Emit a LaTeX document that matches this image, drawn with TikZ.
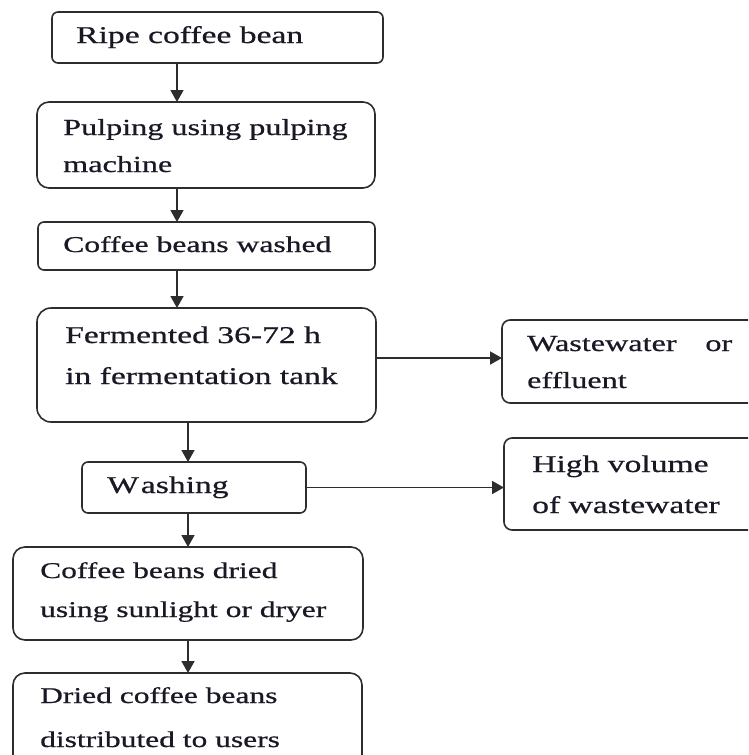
\documentclass[tikz,border=0pt]{standalone}
\usepackage{fontspec}
\setmainfont[FakeStretch=1.4,FakeBold=0.7]{Liberation Serif}
\usetikzlibrary{arrows.meta}
\definecolor{linec}{RGB}{45,45,45}
\definecolor{txtc}{RGB}{25,25,38}
\tikzset{
  box/.style={draw=linec, line width=1.6pt, anchor=north west, inner sep=0pt, outer sep=0pt},
  txt/.style={anchor=base west, inner sep=0pt, text=txtc},
  arr/.style={draw=linec, line width=1.7pt, -{Triangle[length=12pt,width=13pt]}},
}
\newcommand{\boxat}[6]{% name, x1, y1, x2, y2, radius
  \node[box, rounded corners=#6, minimum width={#4-#2}, minimum height={#5-#3}] (#1) at (#2,#3) {};}
\begin{document}
\begin{tikzpicture}[x=1pt,y=-1pt]
\useasboundingbox (0,0) rectangle (748,755);
\clip (0,0) rectangle (748,755);
% boxes
\boxat{b1}{52}{12}{383}{63}{6pt}
\boxat{b2}{37}{102}{375}{188}{12pt}
\boxat{b3}{38}{222}{375}{270}{6pt}
\boxat{b4}{37}{308}{376}{422}{14pt}
\boxat{b5}{502}{320}{762}{403}{8pt}
\boxat{b6}{82}{462}{306}{513}{6pt}
\boxat{b7}{504}{438}{762}{530}{8pt}
\boxat{b8}{13}{547}{363}{640}{12pt}
\boxat{b9}{13}{673}{362}{790}{12pt}
% texts
\node[txt, font=\fontsize{24}{24}\selectfont] (t1) at (76,43) {Ripe coffee bean};
\node[txt, font=\fontsize{23}{37}\selectfont] (t2) at (63,135) {\begin{tabular}[t]{@{}l@{}}Pulping using pulping\\machine\end{tabular}};
\node[txt, font=\fontsize{22.6}{24}\selectfont] (t3) at (63,252) {Coffee beans washed};
\node[txt, font=\fontsize{24}{41}\selectfont] (t4) at (65,343) {\begin{tabular}[t]{@{}l@{}}Fermented 36-72 h\\in fermentation tank\end{tabular}};
\node[txt, font=\fontsize{23}{37}\selectfont] (t5) at (527,351) {\begin{tabular}[t]{@{}l@{}}\makebox[205pt][s]{Wastewater or}\\effluent\end{tabular}};
\node[txt, font=\fontsize{24}{24}\selectfont] (t6) at (107,493) {W\kern2pt ashing};
\node[txt, font=\fontsize{24}{41}\selectfont] (t7) at (532,472) {\begin{tabular}[t]{@{}l@{}}High volume\\of wastewater\end{tabular}};
\node[txt, font=\fontsize{22.5}{39}\selectfont] (t8) at (40,578) {\begin{tabular}[t]{@{}l@{}}Coffee beans dried\\using sunlight or dryer\end{tabular}};
\node[txt, font=\fontsize{22.5}{44}\selectfont] (t9) at (40,703) {\begin{tabular}[t]{@{}l@{}}Dried coffee beans\\distributed to users\end{tabular}};
% connector guides
\coordinate (xa) at (177,0);
\coordinate (xb) at (188,0);
\coordinate (ya) at (0,358);
% connectors
\draw[arr] (b1.south -| xa) -- (b2.north -| xa);
\draw[arr] (b2.south -| xa) -- (b3.north -| xa);
\draw[arr] (b3.south -| xa) -- (b4.north -| xa);
\draw[arr] (b4.east |- ya) -- (b5.west |- ya);
\draw[arr] (b4.south -| xb) -- (b6.north -| xb);
\draw[arr] (b6.east) -- (b7.west |- b6.east);
\draw[arr] (b6.south -| xb) -- (b8.north -| xb);
\draw[arr] (b8.south -| xb) -- (b9.north -| xb);
\end{tikzpicture}
\end{document}
